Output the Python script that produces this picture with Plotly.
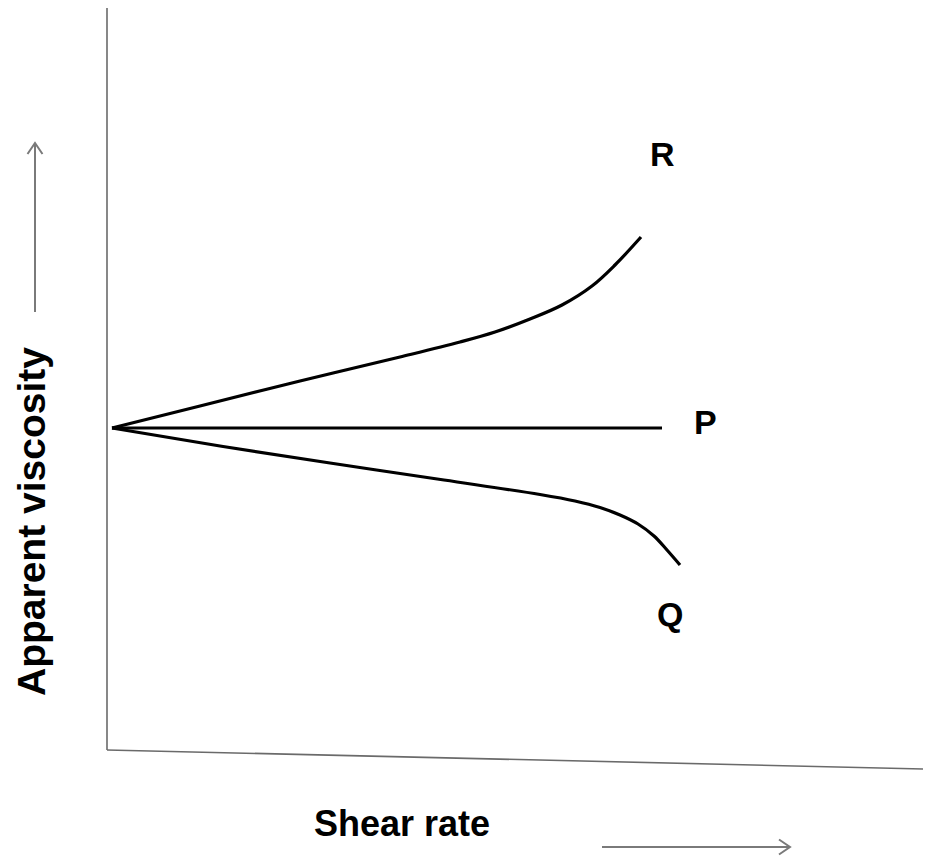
import plotly.graph_objects as go

# Data (x = shear rate, y = apparent viscosity, arbitrary units)
r_x = [5, 93, 193, 293, 353, 388, 423, 455, 485, 508, 534]
r_y = [322, 344, 369, 393, 408, 418, 431, 445, 464, 485, 513]
p_x = [5, 555]
p_y = [322, 322]
q_x = [5, 113, 223, 337, 433, 468, 493, 513, 531, 547, 560, 573]
q_y = [322, 304, 287, 270, 255.5, 249, 242.5, 235, 226, 214, 200, 185]

labels = ["R", "P", "Q"]
label_x = [555, 598, 563]
label_y = [596, 328, 136]

x_title = "Shear rate"
y_title = "Apparent viscosity"

# axis frame (drawn by hand, slightly sloped x axis as in the reference)
yaxis_x = [0, 0]
yaxis_y = [0, 742]
xaxis_x = [0, 840]
xaxis_y = [0, -19.5]

# direction arrows
yarrow_x = [-72, -72]
yarrow_y = [438, 607]
xarrow_x = [495, 683]
xarrow_y = [-97, -97]

fig = go.Figure()

curve = dict(color="black", width=3.2)
fig.add_trace(go.Scatter(x=r_x, y=r_y, mode="lines", line=dict(shape="spline", smoothing=1.0, **curve), hoverinfo="skip"))
fig.add_trace(go.Scatter(x=p_x, y=p_y, mode="lines", line=curve, hoverinfo="skip"))
fig.add_trace(go.Scatter(x=q_x, y=q_y, mode="lines", line=dict(shape="spline", smoothing=1.0, **curve), hoverinfo="skip"))

axis_line = dict(color="#6a6a6a", width=1.6)
fig.add_trace(go.Scatter(x=yaxis_x, y=yaxis_y, mode="lines", line=axis_line, hoverinfo="skip"))
fig.add_trace(go.Scatter(x=xaxis_x, y=xaxis_y, mode="lines", line=axis_line, hoverinfo="skip"))

arrow_line = dict(color="#7a7a7a", width=2)
fig.add_trace(go.Scatter(x=yarrow_x, y=yarrow_y, mode="lines", line=arrow_line, hoverinfo="skip"))
fig.add_trace(go.Scatter(
    x=[yarrow_x[1] - 7.5, yarrow_x[1], yarrow_x[1] + 7.5],
    y=[yarrow_y[1] - 11, yarrow_y[1], yarrow_y[1] - 11],
    mode="lines", line=arrow_line, hoverinfo="skip"))
fig.add_trace(go.Scatter(x=xarrow_x, y=xarrow_y, mode="lines", line=arrow_line, hoverinfo="skip"))
fig.add_trace(go.Scatter(
    x=[xarrow_x[1] - 11, xarrow_x[1], xarrow_x[1] - 11],
    y=[xarrow_y[1] + 7.5, xarrow_y[1], xarrow_y[1] - 7.5],
    mode="lines", line=arrow_line, hoverinfo="skip"))

font_bold = "Liberation Sans, Arial, sans-serif"
for t, x, y in zip(labels, label_x, label_y):
    fig.add_annotation(x=x, y=y, text="<b>%s</b>" % t, showarrow=False,
                       font=dict(family=font_bold, size=34, color="black"),
                       xanchor="center", yanchor="middle")

fig.add_annotation(x=295, y=-73, text="<b>%s</b>" % x_title, showarrow=False,
                   font=dict(family=font_bold, size=36, color="black"),
                   xanchor="center", yanchor="middle")
fig.add_annotation(x=-76, y=228, text="<b>%s</b>" % y_title, showarrow=False,
                   textangle=-90,
                   font=dict(family=font_bold, size=39, color="black"),
                   xanchor="center", yanchor="middle")

# The page body has an 8px default margin, so the ranges are shifted by 8px
fig.update_layout(
    width=931, height=856,
    margin=dict(l=0, r=0, t=0, b=0),
    paper_bgcolor="white", plot_bgcolor="white",
    showlegend=False,
    xaxis=dict(range=[-99, 832], visible=False, fixedrange=True),
    yaxis=dict(range=[-114, 742], visible=False, fixedrange=True),
)

fig.write_html("out.html", config={"displayModeBar": False})
